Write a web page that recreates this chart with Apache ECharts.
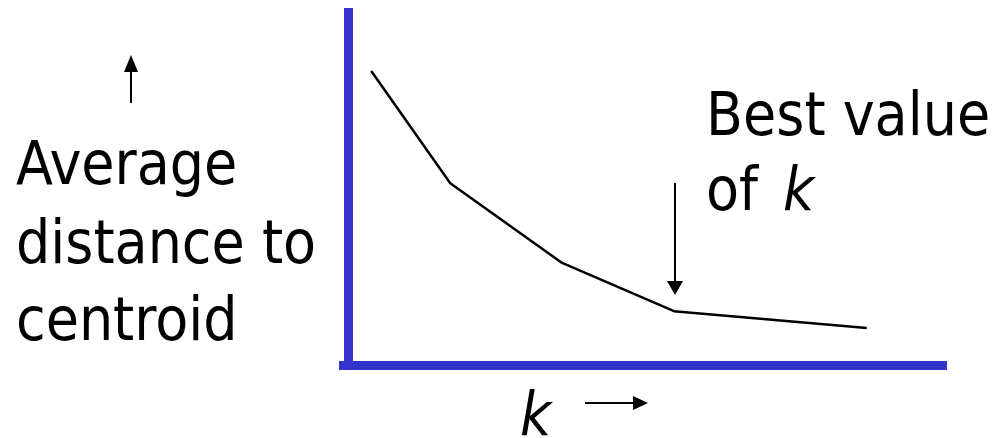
<!DOCTYPE html>
<html>
<head>
<meta charset="utf-8">
<script src="https://cdn.jsdelivr.net/npm/echarts@6/dist/echarts.min.js"></script>
<style>
  html, body { margin: 0; padding: 0; background: #fff; }
  #chart { width: 1001px; height: 438px; }
</style>
</head>
<body>
<div id="chart"></div>
<script>
// k positions (scaled 0-100 along the axis) and average distance (0-100)
var kValues = [5.3, 18.3, 36.7, 55.1, 86.8];
var avgDistance = [82.4, 51.0, 28.7, 15.2, 10.5];

var leftLabel = ["Average", "distance to", "centroid"];
var bestLabel = ["Best value", "of "];

var blue = "#3333cc";
var font = "60px 'DejaVu Sans Condensed', 'DejaVu Sans', sans-serif";
var italicFont = "italic 60px 'DejaVu Sans Condensed', 'DejaVu Sans', sans-serif";

var myChart = echarts.init(document.getElementById("chart"));

function arrowHead(tip, dir, len, half) {
    // dir: 'up' | 'down' | 'right'
    var x = tip[0], y = tip[1];
    if (dir === "up") return [[x, y], [x - half, y + len], [x + half, y + len]];
    if (dir === "down") return [[x, y], [x - half, y - len], [x + half, y - len]];
    return [[x, y], [x - len, y - half], [x - len, y + half]];
}

var graphics = [];
leftLabel.forEach(function (t, i) {
    graphics.push({
        type: "text",
        style: { text: t, x: 16, y: [168, 247, 324][i], font: font, fill: "#000", verticalAlign: "middle" }
    });
});
graphics.push({ type: "text", style: { text: bestLabel[0], x: 706, y: 119, font: font, fill: "#000", verticalAlign: "middle" } });
graphics.push({ type: "text", style: { text: bestLabel[1], x: 706, y: 194, font: font, fill: "#000", verticalAlign: "middle" } });
graphics.push({ type: "text", style: { text: "k", x: 783, y: 194, font: italicFont, fill: "#000", verticalAlign: "middle" } });
graphics.push({ type: "text", style: { text: "k", x: 520, y: 419, font: italicFont, fill: "#000", verticalAlign: "middle" } });

// arrows
graphics.push({ type: "line", shape: { x1: 131, y1: 70, x2: 131, y2: 103 }, style: { stroke: "#000", lineWidth: 2 } });
graphics.push({ type: "polygon", shape: { points: arrowHead([131, 55], "up", 17, 7) }, style: { fill: "#000" } });
graphics.push({ type: "line", shape: { x1: 675, y1: 183, x2: 675, y2: 282 }, style: { stroke: "#000", lineWidth: 2 } });
graphics.push({ type: "polygon", shape: { points: arrowHead([675, 295], "down", 14, 8) }, style: { fill: "#000" } });
graphics.push({ type: "line", shape: { x1: 585, y1: 403, x2: 636, y2: 403 }, style: { stroke: "#000", lineWidth: 2 } });
graphics.push({ type: "polygon", shape: { points: arrowHead([648, 403], "right", 15, 7) }, style: { fill: "#000" } });

var option = {
    animation: false,
    backgroundColor: "#fff",
    grid: { left: 339, right: 54, top: 8, bottom: 72.5 },
    xAxis: {
        type: "value",
        min: 0,
        max: 100,
        axisLine: { onZero: false, lineStyle: { color: blue, width: 9, cap: "butt" } },
        axisTick: { show: false },
        axisLabel: { show: false },
        splitLine: { show: false }
    },
    yAxis: {
        type: "value",
        min: 0,
        max: 100,
        offset: -9.5,
        axisLine: { show: true, onZero: false, lineStyle: { color: blue, width: 9, cap: "butt" } },
        axisTick: { show: false },
        axisLabel: { show: false },
        splitLine: { show: false }
    },
    series: [{
        type: "line",
        data: kValues.map(function (k, i) { return [k, avgDistance[i]]; }),
        showSymbol: false,
        lineStyle: { color: "#000", width: 2.5 },
        z: 1
    }],
    graphic: graphics
};

myChart.setOption(option);
window.addEventListener("resize", function () {
    myChart.resize();
});
</script>
</body>
</html>
